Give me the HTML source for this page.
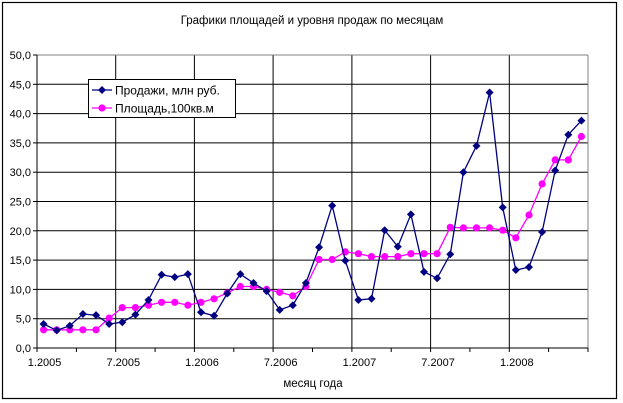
<!DOCTYPE html>
<html><head><meta charset="utf-8"><style>
html,body{margin:0;padding:0;background:#fff;}
svg{display:block;font-family:"Liberation Sans",Arial,sans-serif;}
</style></head><body>
<svg id="s" width="623" height="403" viewBox="0 0 623 403" xmlns="http://www.w3.org/2000/svg">
<rect x="2.5" y="2.5" width="614" height="396" fill="#fff" stroke="#000" stroke-width="1.2"/>
<text x="312" y="24" font-size="11.5" text-anchor="middle">Графики площадей и уровня продаж по месяцам</text>
<g id="grid"></g>
<g id="series"></g>
<rect x="88.5" y="79.5" width="147" height="38" fill="#fff" stroke="#000" stroke-width="1"/>
<line x1="92" y1="90" x2="112" y2="90" stroke="#000080" stroke-width="1.3"/>
<path d="M102 86 L106 90 L102 94 L98 90 Z" fill="#000080"/>
<text x="115" y="94.5" font-size="12">Продажи, млн руб.</text>
<line x1="92" y1="108" x2="112" y2="108" stroke="#ff00ff" stroke-width="1.3"/>
<circle cx="102" cy="108" r="3.6" fill="#ff00ff"/>
<text x="115" y="112.5" font-size="12">Площадь,100кв.м</text>
<text x="313" y="387" font-size="11.5" text-anchor="middle">месяц года</text>
</svg>
<script>
var L=37,R=588,T=55,B=348,N=42,w=(R-L)/N;
function Y(v){return B-(v/50)*(B-T);}
function X(i){return L+w*(i+0.5);}
var g='';
for(var k=1;k<=10;k++){var y=Y(k*5).toFixed(1);g+='<line x1="'+L+'" y1="'+y+'" x2="'+R+'" y2="'+y+'" stroke="#000" stroke-width="1"/>';}
for(var k=1;k<7;k++){var x=(L+w*6*k).toFixed(1);g+='<line x1="'+x+'" y1="'+T+'" x2="'+x+'" y2="'+B+'" stroke="#000" stroke-width="1"/>';}
g+='<line x1="'+L+'" y1="'+T+'" x2="'+R+'" y2="'+T+'" stroke="#808080"/>';
g+='<line x1="'+R+'" y1="'+T+'" x2="'+R+'" y2="'+B+'" stroke="#808080"/>';
g+='<line x1="'+L+'" y1="'+T+'" x2="'+L+'" y2="'+B+'" stroke="#000"/>';
g+='<line x1="'+L+'" y1="'+B+'" x2="'+R+'" y2="'+B+'" stroke="#000"/>';
for(var k=0;k<=10;k++){var y=Y(k*5);g+='<line x1="'+(L-4)+'" y1="'+y+'" x2="'+L+'" y2="'+y+'" stroke="#000"/>';
g+='<text x="'+(L-6)+'" y="'+(y+4)+'" font-size="11" text-anchor="end">'+(k*5).toFixed(1).replace('.',',')+'</text>';}
for(var k=0;k<=14;k++){var x=(L+w*3*k).toFixed(1);g+='<line x1="'+x+'" y1="'+B+'" x2="'+x+'" y2="'+(B+4)+'" stroke="#000"/>';}
var labs=['1.2005','7.2005','1.2006','7.2006','1.2007','7.2007','1.2008'];
for(var k=0;k<7;k++){g+='<text x="'+(X(6*k)+1).toFixed(1)+'" y="'+(B+18)+'" font-size="11" text-anchor="middle">'+labs[k]+'</text>';}
document.getElementById('grid').innerHTML=g;
var s=[4.1,3.0,3.8,5.8,5.6,4.1,4.4,5.7,8.2,12.5,12.1,12.6,6.1,5.5,9.3,12.6,11.1,9.7,6.5,7.3,11.1,17.2,24.3,14.9,8.2,8.4,20.1,17.3,22.8,13.0,11.9,16.0,30.0,34.5,43.6,24.0,13.3,13.8,19.8,30.3,36.4,38.8];
var a=[3.1,3.1,3.1,3.1,3.1,5.1,6.9,6.9,7.3,7.8,7.8,7.3,7.8,8.4,9.4,10.5,10.5,10.0,9.5,8.9,10.5,15.1,15.1,16.4,16.1,15.6,15.6,15.6,16.1,16.1,16.1,20.6,20.5,20.5,20.5,20.1,18.8,22.7,28.0,32.1,32.1,36.1];
var h='',p1='',p2='';
for(var i=0;i<N;i++){p1+=X(i).toFixed(1)+','+Y(s[i]).toFixed(1)+' ';p2+=X(i).toFixed(1)+','+Y(a[i]).toFixed(1)+' ';}
h+='<polyline points="'+p2+'" fill="none" stroke="#ff00ff" stroke-width="1.3"/>';
for(var i=0;i<N;i++){h+='<circle cx="'+X(i).toFixed(1)+'" cy="'+Y(a[i]).toFixed(1)+'" r="3.6" fill="#ff00ff"/>';}
h+='<polyline points="'+p1+'" fill="none" stroke="#000080" stroke-width="1.3"/>';
for(var i=0;i<N;i++){var x=X(i),y=Y(s[i]);h+='<path d="M'+x+' '+(y-4)+' L'+(x+4)+' '+y+' L'+x+' '+(y+4)+' L'+(x-4)+' '+y+' Z" fill="#000080"/>';}
document.getElementById('series').innerHTML=h;
</script>
</body></html>
